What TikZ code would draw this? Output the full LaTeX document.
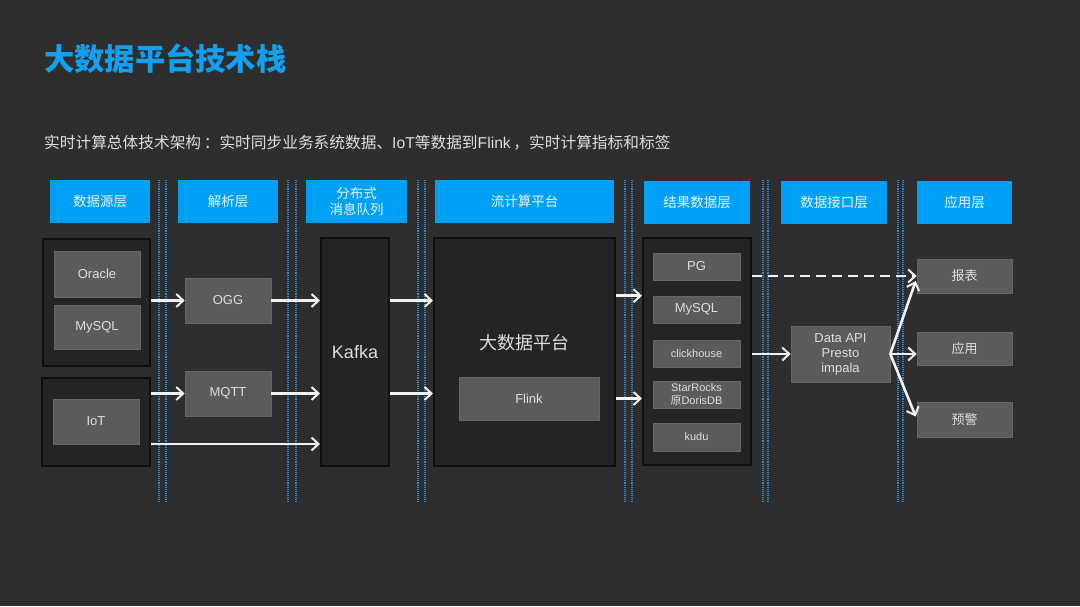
\documentclass[tikz,border=0pt]{standalone}
\usepackage{fontspec}
\setmainfont{Liberation Sans}
\newfontfamily\cjk{Noto Sans CJK SC}
\usetikzlibrary{arrows.meta,calc}
\definecolor{bgc}{HTML}{2E2E2E}
\definecolor{darkc}{HTML}{242424}
\definecolor{darkedge}{HTML}{0F0F0F}
\definecolor{grayc}{HTML}{5B5B5B}
\definecolor{grayedge}{HTML}{666666}
\definecolor{headc}{HTML}{00A0F6}
\definecolor{titlec}{HTML}{14A0F0}
\definecolor{txtc}{HTML}{DEDEDE}
\definecolor{sepc}{HTML}{3388CC}
\definecolor{sepdark}{HTML}{20303C}
\definecolor{arrc}{HTML}{F2F2F2}
\begin{document}
\begin{tikzpicture}[x=1pt,y=-1pt,
  header/.style={fill=headc,draw=none,text=white!92!headc,font=\cjk\fontsize{13.5}{15}\selectfont,align=center,inner sep=0pt},
  darkbox/.style={fill=darkc,draw=darkedge,line width=2pt,inner sep=0pt},
  graybox/.style={fill=grayc,draw=grayedge,line width=0.6pt,text=txtc,font=\fontsize{13}{15}\selectfont,align=center,inner sep=0pt},
  smallbox/.style={graybox,minimum width=87pt,minimum height=27pt,font=\fontsize{11}{12}\selectfont},
  sepline/.style={draw=sepc,densely dotted,line width=1.1pt},
  sepbase/.style={draw=sepdark,line width=1.4pt},
  flow/.style={draw=arrc,line width=2.6pt,-{Straight Barb[length=7pt,width=13pt,line width=2pt]}},
  dflow/.style={flow,dash pattern=on 10pt off 6pt}]
\useasboundingbox[fill=bgc] (0,0) rectangle (1080,606);
% separators
\foreach \xa/\xb in {159/166,288/296,418/425,625/632,763/768,898/903}{
  \draw[sepbase] (\xa,180) -- (\xa,502);
  \draw[sepbase] (\xb,180) -- (\xb,502);
  \draw[sepline] (\xa,180) -- (\xa,502);
  \draw[sepline] (\xb,180) -- (\xb,502);
}
% title and subtitle
\node[anchor=west,inner sep=0pt,text=titlec,font=\cjk\bfseries\fontsize{30.3}{32}\selectfont] (title) at (44,59) {大数据平台技术栈};
\node[anchor=west,inner sep=0pt,text=txtc,font=\fontsize{15.7}{17}\selectfont] (sub) at (44,143) {{\cjk 实时计算总体技术架构\,：实时同步业务系统数据、}IoT{\cjk 等数据到}Flink{\cjk \,，实时计算指标和标签}};
% headers
\node[header,minimum width=100pt,minimum height=43pt] (h1) at (100,201.5) {数据源层};
\node[header,minimum width=100pt,minimum height=43pt] (h2) at (228,201.5) {解析层};
\node[header,minimum width=101pt,minimum height=43pt,font=\cjk\fontsize{13.5}{16}\selectfont] (h3) at (356.5,201.5) {分布式\\消息队列};
\node[header,minimum width=179pt,minimum height=43pt] (h4) at (524.5,201.5) {流计算平台};
\node[header,minimum width=106pt,minimum height=43pt] (h5) at (697,202) {结果数据层};
\node[header,minimum width=106pt,minimum height=43pt] (h6) at (834,202) {数据接口层};
\node[header,minimum width=95pt,minimum height=43pt] (h7) at (964.5,202) {应用层};
% dark containers
\node[darkbox,minimum width=107pt,minimum height=127pt] (src1) at (96.5,302.5) {};
\node[darkbox,minimum width=108pt,minimum height=88pt] (src2) at (96,422) {};
\node[darkbox,minimum width=68pt,minimum height=228pt,text=txtc,font=\fontsize{18}{20}\selectfont] (kafka) at (355,352) {Kafka};
\node[darkbox,minimum width=181pt,minimum height=228pt] (plat) at (524.5,352) {};
\node[darkbox,minimum width=108pt,minimum height=227pt] (res) at (697,351.5) {};
\node[text=txtc,font=\cjk\fontsize{18}{20}\selectfont,inner sep=0pt] (platlbl) at (524,343) {大数据平台};
% gray boxes
\node[graybox,minimum width=86pt,minimum height=46pt] (oracle) at (97,274) {Oracle};
\node[graybox,minimum width=86pt,minimum height=44pt] (mysqla) at (97,327) {MySQL};
\node[graybox,minimum width=86pt,minimum height=45pt] (iot) at (96,421.5) {IoT};
\node[graybox,minimum width=86pt,minimum height=45pt] (ogg) at (228,300.5) {OGG};
\node[graybox,minimum width=86pt,minimum height=45pt] (mqtt) at (228,393.5) {MQTT};
\node[graybox,minimum width=140pt,minimum height=43pt] (flink) at (529,398.5) {Flink};
\node[smallbox,font=\fontsize{13}{15}\selectfont] (pg) at (696.5,266.5) {PG};
\node[smallbox,font=\fontsize{13}{15}\selectfont] (mysqlb) at (696.5,309.5) {MySQL};
\node[smallbox] (ch) at (696.5,353.5) {clickhouse};
\node[smallbox,font=\fontsize{11}{12.5}\selectfont] (sr) at (696.5,394.5) {StarRocks\\{\cjk 原}DorisDB};
\node[smallbox,minimum height=28pt] (kudu) at (696.5,437) {kudu};
\node[graybox,minimum width=99pt,minimum height=56pt,font=\fontsize{13}{15}\selectfont] (api) at (840.5,354) {Data API\\Presto\\impala};
\node[graybox,minimum width=95pt,minimum height=34pt,font=\cjk\fontsize{13}{15}\selectfont] (bb) at (964.5,276) {报表};
\node[graybox,minimum width=95pt,minimum height=33pt,font=\cjk\fontsize{13}{15}\selectfont] (yy) at (964.5,348.5) {应用};
\node[graybox,minimum width=95pt,minimum height=35pt,font=\cjk\fontsize{13}{15}\selectfont] (yj) at (964.5,419.5) {预警};
% connectors
\coordinate (iotout) at (151,444);
\draw[flow] (src1.east |- ogg.west) -- (ogg.west);
\draw[flow] (ogg.east) -- (kafka.west |- ogg.east);
\draw[flow] (src2.east |- mqtt.west) -- (mqtt.west);
\draw[flow] (mqtt.east) -- (kafka.west |- mqtt.east);
\draw[flow] (iotout) -- (kafka.west |- iotout);
\draw[flow] (kafka.east |- ogg.east) -- (plat.west |- ogg.east);
\draw[flow] (kafka.east |- mqtt.east) -- (plat.west |- mqtt.east);
\draw[flow] (plat.east |- mysqlb.north) -- (res.west |- mysqlb.north);
\draw[flow] (plat.east |- flink.east) -- (res.west |- flink.east);
\draw[dflow] (res.east |- bb.west) -- (bb.west);
\draw[flow] (res.east |- api.west) -- (api.west);
\draw[flow] (api.east) -- ($(bb.west)+(-1,5)$);
\draw[flow] (api.east) -- (yy.west |- api.east);
\draw[flow] (api.east) -- ($(yj.west)+(-1,-3)$);
\end{tikzpicture}
\end{document}
